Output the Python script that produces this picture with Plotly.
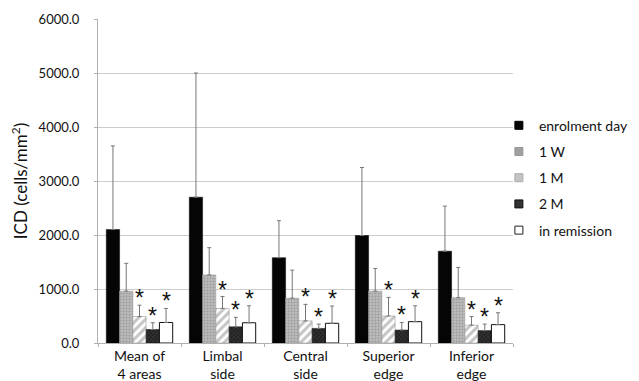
import plotly.graph_objects as go

categories = ["Mean of<br>4 areas", "Limbal<br>side", "Central<br>side", "Superior<br>edge", "Inferior<br>edge"]
series_names = ["enrolment day", "1 W", "1 M", "2 M", "in remission"]

enrolment = [2100, 2700, 1580, 1990, 1700]
enrolment_sd = [1550, 2300, 685, 1260, 835]
w1 = [960, 1260, 830, 960, 840]
w1_sd = [515, 505, 520, 420, 560]
m1 = [490, 640, 410, 500, 330]
m1_sd = [210, 220, 305, 345, 160]
m2 = [250, 300, 270, 240, 230]
m2_sd = [125, 175, 80, 140, 120]
remission = [380, 375, 365, 395, 340]
remission_sd = [260, 315, 320, 295, 220]

values = [enrolment, w1, m1, m2, remission]
sds = [enrolment_sd, w1_sd, m1_sd, m2_sd, remission_sd]
significant = [False, False, True, True, True]

styles = [
    dict(color="#050505", line=dict(color="#000", width=0.5)),
    dict(color="#a8a8a8", line=dict(color="#999", width=0.5),
         pattern=dict(shape=".", fgcolor="#7a7a7a", bgcolor="#bdbdbd", size=3, solidity=0.4)),
    dict(color="#ffffff", line=dict(color="#888", width=0.5),
         pattern=dict(shape="/", fgcolor="#8a8a8a", bgcolor="#ffffff", size=6, solidity=0.5)),
    dict(color="#333333", line=dict(color="#111", width=0.5),
         pattern=dict(shape="x", fgcolor="#555555", bgcolor="#222222", size=3, solidity=0.4)),
    dict(color="#ffffff", line=dict(color="#111", width=1)),
]
legend_colors = ["#050505", "#a0a0a0", "#c4c4c4", "#333333", "#ffffff"]
legend_lines = ["#000", "#999", "#aaa", "#111", "#222"]

fig = go.Figure()
for i, (name, v, sd, st) in enumerate(zip(series_names, values, sds, styles)):
    fig.add_trace(go.Bar(
        name=name, x=categories, y=v, marker=st, showlegend=False,
        error_y=dict(type="data", array=sd, arrayminus=[0] * len(sd), symmetric=False,
                     color="#777777", thickness=1, width=2),
    ))
for name, c, lc in zip(series_names, legend_colors, legend_lines):
    fig.add_trace(go.Scatter(
        x=[None], y=[None], mode="markers", name=name, legendgroup=name,
        marker=dict(symbol="square", size=8, color=c, line=dict(color=lc, width=1)),
    ))

bargap = 0.2
n = len(series_names)
bw = (1 - bargap) / n
annotations = []
for s in range(n):
    if not significant[s]:
        continue
    off = -(1 - bargap) / 2 + bw * (s + 0.5)
    for c in range(len(categories)):
        annotations.append(dict(
            x=c + off, y=values[s][c] + sds[s][c], xref="x", yref="y",
            text="*", showarrow=False, yanchor="bottom", yshift=-8,
            font=dict(size=23, color="#111", family="Liberation Sans"),
        ))

fig.update_layout(
    width=631, height=373,
    margin=dict(l=90, r=126, t=11, b=38, autoexpand=False),
    paper_bgcolor="white", plot_bgcolor="white",
    barmode="group", bargap=bargap, bargroupgap=0,
    font=dict(family="Lato", color="#111", size=13),
    showlegend=True,
    legend=dict(x=0.966, y=0.72, xanchor="left", yanchor="top",
                font=dict(size=14, color="#111"), traceorder="grouped",
                tracegroupgap=5, itemwidth=30, bgcolor="rgba(0,0,0,0)"),
    annotations=annotations,
)
fig.update_yaxes(range=[0, 6000], dtick=1000, tickformat=".1f", automargin=False,
                 showgrid=True, gridcolor="#cccccc", gridwidth=1,
                 showline=True, linecolor="#b0b0b0", linewidth=1,
                 ticks="outside", ticklen=3, tickcolor="#b0b0b0", ticklabelstandoff=12,
                 tickfont=dict(size=13, color="#111"),
                 title=dict(text="ICD (cells/mm<sup>2</sup>)", font=dict(size=17, color="#111"), standoff=8),
                 zeroline=False)
fig.update_xaxes(showline=True, linecolor="#b0b0b0", linewidth=1, automargin=False,
                 ticks="outside", tickson="boundaries", ticklen=3, tickcolor="#b0b0b0",
                 tickfont=dict(size=14, color="#111"))

fig.write_html("out.html")
